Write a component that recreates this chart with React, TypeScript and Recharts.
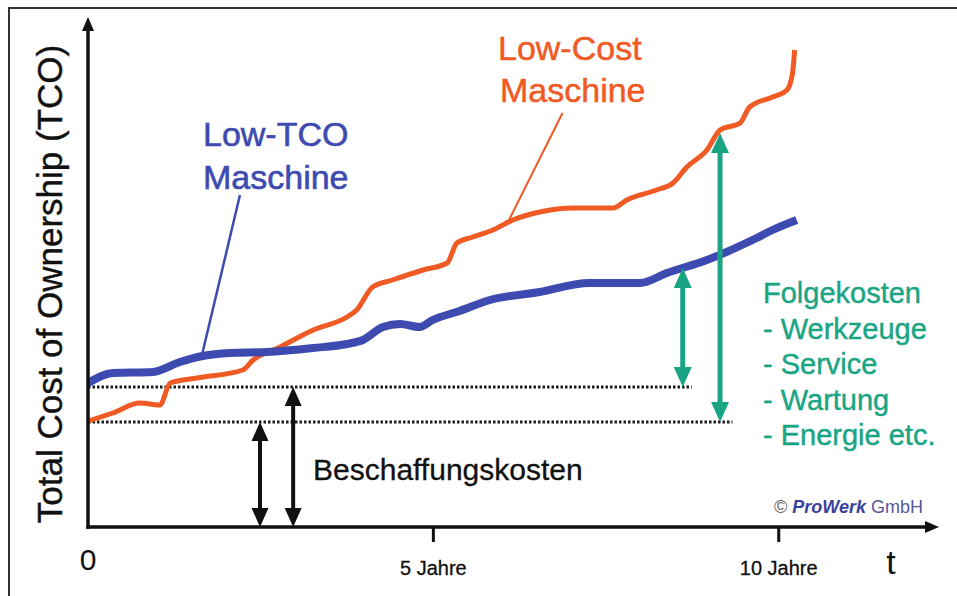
import React from "react";
import { LineChart, Line, XAxis, YAxis, ReferenceLine, Customized } from "recharts";

// years since purchase / TCO in arbitrary cost units
const lowTcoYears = [0, 0.36, 0.94, 1.33, 1.66, 2.05, 2.59, 3.26, 3.75, 3.98, 4.27, 4.52, 4.8, 4.99, 5.38, 5.82, 6.54, 7.26, 7.99, 8.38, 8.96, 9.68, 9.91, 10.26];
const lowTcoCost = [28.8, 30.8, 31.0, 33.0, 34.2, 34.8, 35.0, 35.8, 36.6, 37.4, 40.0, 40.6, 40.0, 41.4, 43.2, 45.4, 47.0, 48.8, 48.8, 50.8, 53.4, 57.8, 59.4, 61.4];

const lowCostYears = [0, 0.36, 0.75, 1.04, 1.19, 1.58, 2.24, 2.39, 2.78, 3.26, 3.75, 3.89, 4.12, 4.41, 4.85, 5.2, 5.34, 5.57, 5.86, 6.15, 6.54, 7.02, 7.6, 7.8, 8.23, 8.47, 8.67, 8.96, 9.15, 9.44, 9.58, 9.91, 10.12, 10.2, 10.23];
const lowCostCost = [21.2, 22.8, 24.8, 24.4, 28.8, 29.8, 31.4, 33.4, 36.0, 39.4, 42.0, 43.4, 48.0, 49.4, 51.4, 52.8, 56.8, 58.0, 59.4, 61.4, 63.0, 63.8, 63.8, 65.4, 67.4, 68.8, 72.0, 75.4, 79.4, 80.8, 84.0, 86.0, 87.4, 90.8, 95.4];

const xTicks = [0, 5, 10];
const xTickLabels = ["0", "5 Jahre", "10 Jahre"];

// Beschaffungskosten (purchase cost) levels
const purchaseLowTco = 28;
const purchaseLowCost = 21;
const purchaseArrowX = [2.49, 2.97];
const followArrowX = [8.61, 9.15];
const followArrowTop = [51.8, 78.8];
const dottedEnds = [8.74, 9.33];

const folgeLines = ["Folgekosten", "- Werkzeuge", "- Service", "- Wartung", "- Energie etc."];

const X_MAX = 12.32;
const Y_MAX = 102;

const BLUE = "#3d4bb0";
const ORANGE = "#f05a24";
const GREEN = "#19a584";
const FONT = "'Liberation Sans', Arial, Helvetica, sans-serif";

const lowTcoData = lowTcoYears.map((year, i) => ({ year, cost: lowTcoCost[i] }));
const lowCostData = lowCostYears.map((year, i) => ({ year, cost: lowCostCost[i] }));

type ArrowOpts = { color: string; width: number; headLen: number; headW: number; both?: boolean; square?: boolean };

const arrowShape = ({ color, width, headLen, headW, both, square }: ArrowOpts) => (p: any) => {
  const { x1, y1, x2, y2 } = p;
  const len = Math.hypot(x2 - x1, y2 - y1) || 1;
  const ux = (x2 - x1) / len;
  const uy = (y2 - y1) / len;
  const nx = -uy;
  const ny = ux;
  const head = (tx: number, ty: number, dx: number, dy: number) => {
    const bx = tx - dx * headLen;
    const by = ty - dy * headLen;
    return `${tx},${ty} ${bx + (nx * headW) / 2},${by + (ny * headW) / 2} ${bx - (nx * headW) / 2},${by - (ny * headW) / 2}`;
  };
  const sx = both ? x1 + ux * headLen * 0.7 : x1;
  const sy = both ? y1 + uy * headLen * 0.7 : y1;
  const ex = x2 - ux * headLen * 0.7;
  const ey = y2 - uy * headLen * 0.7;
  return (
    <g>
      <line x1={sx} y1={sy} x2={ex} y2={ey} stroke={color} strokeWidth={width} strokeLinecap={square ? "square" : "butt"} />
      <polygon points={head(x2, y2, ux, uy)} fill={color} />
      {both && <polygon points={head(x1, y1, -ux, -uy)} fill={color} />}
    </g>
  );
};

const YearTick = (props: any) => {
  const { x, y, payload } = props;
  const idx = xTicks.indexOf(payload.value);
  const label = xTickLabels[idx] ?? String(payload.value);
  if (payload.value === 0) {
    return (
      <text x={x} y={y + 43} textAnchor="middle" fontFamily={FONT} fontSize={30} fill="#111">
        {label}
      </text>
    );
  }
  return (
    <g>
      <line x1={x} x2={x} y1={y} y2={y + 15} stroke="#111" strokeWidth={3} />
      <text x={x} y={y + 48} textAnchor="middle" fontFamily={FONT} fontSize={20} fill="#111" stroke="#111" strokeWidth={0.3}>
        {label}
      </text>
    </g>
  );
};

const Annotations = () => (
  <g fontFamily={FONT}>
    <text x={62} y={284} transform="rotate(-90 62 284)" textAnchor="middle" fontSize={35} fill="#111" stroke="#111" strokeWidth={0.4}>
      Total Cost of Ownership (TCO)
    </text>
    <g stroke={BLUE} strokeWidth={0.6} fill={BLUE} fontSize={34}>
      <text x={203} y={146}>Low-TCO</text>
      <text x={203} y={189}>Maschine</text>
    </g>
    <g stroke={ORANGE} strokeWidth={0.5} fill={ORANGE} fontSize={34}>
      <text x={498} y={60}>Low-Cost</text>
      <text x={500} y={102}>Maschine</text>
    </g>
    {folgeLines.map((t, i) => (
      <text key={t} x={763} y={303 + i * 35.5} fontSize={29} fill={GREEN} stroke={GREEN} strokeWidth={0.4}>{t}</text>
    ))}
    <text x={313} y={480} fontSize={30} fill="#111" stroke="#111" strokeWidth={0.3}>Beschaffungskosten</text>
    <text x={923} y={513} fontSize={18} textAnchor="end">
      <tspan fill="#666">© </tspan>
      <tspan fill="#3b3f9e" fontWeight="bold" fontStyle="italic">ProWerk</tspan>
      <tspan fill="#55579a"> GmbH</tspan>
    </text>
    <text x={891} y={574} fontSize={34} textAnchor="middle" fill="#111">t</text>
  </g>
);

const axisArrow = arrowShape({ color: "#111", width: 3.5, headLen: 14, headW: 12, square: true });
const blackArrow = arrowShape({ color: "#111", width: 4, headLen: 19, headW: 17, both: true });
const greenArrow = arrowShape({ color: GREEN, width: 5, headLen: 20, headW: 18, both: true });

export default function App() {
  return (
    <div style={{ position: "absolute", left: 0, top: 0, width: 957, height: 596, background: "#fff" }}>
      <div
        style={{
          position: "absolute",
          left: 8,
          top: 7,
          width: 949,
          height: 589,
          borderTop: "2px solid #333",
          borderLeft: "2px solid #333",
          boxSizing: "border-box",
        }}
      />
      <div style={{ position: "absolute", left: 0, top: 0 }}>
        <LineChart width={957} height={596} margin={{ top: 17, right: 18, bottom: 19, left: 88 }}>
          <XAxis
            type="number"
            dataKey="year"
            domain={[0, X_MAX]}
            allowDataOverflow
            ticks={xTicks}
            interval={0}
            axisLine={false}
            tickLine={false}
            tickSize={0}
            tickMargin={0}
            height={50}
            tick={<YearTick />}
          />
          <YAxis hide type="number" domain={[0, Y_MAX]} allowDataOverflow />

          <ReferenceLine segment={[{ x: 0, y: purchaseLowTco }, { x: dottedEnds[0], y: purchaseLowTco }]} stroke="#1a1a1a" strokeWidth={3} strokeDasharray="2.5 2" ifOverflow="visible" />
          <ReferenceLine segment={[{ x: 0, y: purchaseLowCost }, { x: dottedEnds[1], y: purchaseLowCost }]} stroke="#1a1a1a" strokeWidth={3} strokeDasharray="2.5 2" ifOverflow="visible" />

          <ReferenceLine segment={[{ x: 2.2, y: 66.4 }, { x: 1.65, y: 34.4 }]} stroke={BLUE} strokeWidth={2.5} ifOverflow="visible" />
          <ReferenceLine segment={[{ x: 6.87, y: 82.8 }, { x: 6.08, y: 61.0 }]} stroke={ORANGE} strokeWidth={2} ifOverflow="visible" />

          <Line data={lowCostData} dataKey="cost" type="monotone" stroke={ORANGE} strokeWidth={5} dot={false} isAnimationActive={false} />
          <Line data={lowTcoData} dataKey="cost" type="monotone" stroke={BLUE} strokeWidth={8} dot={false} isAnimationActive={false} />

          <ReferenceLine segment={[{ x: purchaseArrowX[0], y: 0 }, { x: purchaseArrowX[0], y: purchaseLowCost }]} shape={blackArrow} ifOverflow="visible" />
          <ReferenceLine segment={[{ x: purchaseArrowX[1], y: 0 }, { x: purchaseArrowX[1], y: purchaseLowTco }]} shape={blackArrow} ifOverflow="visible" />
          <ReferenceLine segment={[{ x: followArrowX[0], y: purchaseLowTco }, { x: followArrowX[0], y: followArrowTop[0] }]} shape={greenArrow} ifOverflow="visible" />
          <ReferenceLine segment={[{ x: followArrowX[1], y: purchaseLowCost }, { x: followArrowX[1], y: followArrowTop[1] }]} shape={greenArrow} ifOverflow="visible" />

          <ReferenceLine segment={[{ x: 0, y: 0 }, { x: X_MAX, y: 0 }]} shape={axisArrow} ifOverflow="visible" />
          <ReferenceLine segment={[{ x: 0, y: 0 }, { x: 0, y: Y_MAX }]} shape={axisArrow} ifOverflow="visible" />

          <Customized component={Annotations} />
        </LineChart>
      </div>
    </div>
  );
}
